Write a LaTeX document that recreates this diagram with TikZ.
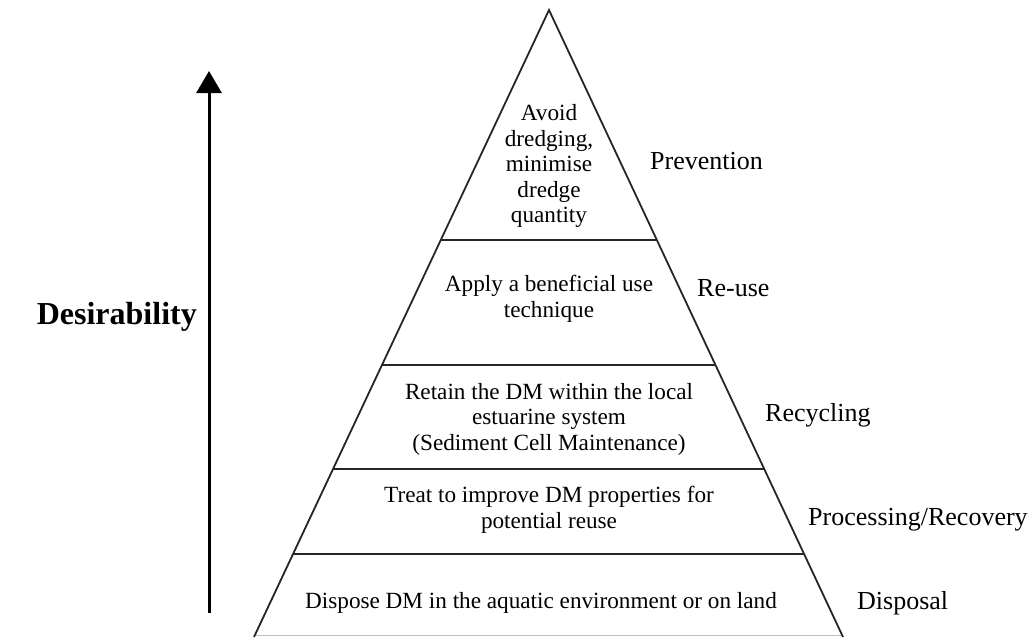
\documentclass[tikz,border=0pt]{standalone}
\usepackage{fontspec}
\setmainfont{Liberation Serif}
\usetikzlibrary{calc,arrows.meta}
\begin{document}
\begin{tikzpicture}[x=1pt,y=-1pt,
  edge/.style={line width=1.8pt,black!85},
  tier/.style={align=center,font=\fontsize{23.2}{25.5}\selectfont,inner sep=0pt},
  level/.style={anchor=base west,font=\fontsize{26}{28}\selectfont,inner sep=0pt}]
\useasboundingbox (0,0) rectangle (1032,637);
% pyramid outline
\coordinate (apex) at (549,10);
\coordinate (bl) at (254,637);
\coordinate (br) at (843,637);
\draw[edge] (bl) -- (apex) -- (br);
\draw[black!25,line width=0.8pt] ($(bl)+(2,-2)$) -- ($(br)+(-2,-2)$);
% tier boundaries
\foreach \t/\n in {0.3668/a,0.5662/b,0.7321/c,0.8676/d}{
  \coordinate (l\n) at ($(apex)!\t!(bl)$);
  \coordinate (r\n) at ($(apex)!\t!(br)$);
  \draw[edge] (l\n) -- (r\n);
}
% tier contents
\node[tier] (t1) at (549,166) {Avoid\\dredging,\\minimise\\dredge\\quantity};
\node[tier] (t2) at (549,299) {Apply a beneficial use\\technique};
\node[tier] (t3) at (549,419) {Retain the DM within the local\\estuarine system\\(Sediment Cell Maintenance)};
\node[tier] (t4) at (549,510) {Treat to improve DM properties for\\potential reuse};
\node[tier] (t5) at (541,603) {Dispose DM in the aquatic environment or on land};
% hierarchy levels
\node[level] (p1) at (650,169) {Prevention};
\node[level] (p2) at (697,296) {Re-use};
\node[level] (p3) at (765,421) {Recycling};
\node[level] (p4) at (808,525) {Processing/Recovery};
\node[level] (p5) at (857,609) {Disposal};
% desirability axis
\coordinate (ax0) at (209,613);
\coordinate (ax1) at (209,71);
\draw[line width=3pt,-{Triangle[width=25pt,length=22pt]}] (ax0) -- (ax1);
\node[font=\fontsize{32}{34}\selectfont\bfseries,inner sep=0pt,anchor=base east] (des) at (197,324) {Desirability};
\end{tikzpicture}
\end{document}
